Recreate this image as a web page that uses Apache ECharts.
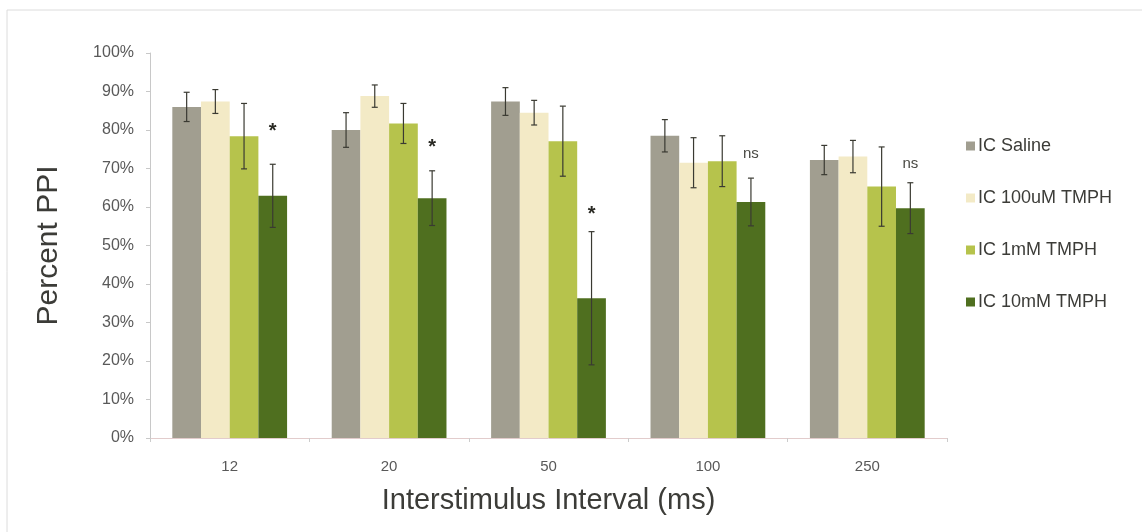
<!DOCTYPE html>
<html>
<head>
<meta charset="utf-8">
<script src="https://cdn.jsdelivr.net/npm/echarts@6/dist/echarts.min.js"></script>
<style>
  html, body { margin: 0; padding: 0; background: #ffffff; }
  #chart { width: 1142px; height: 532px; }
</style>
</head>
<body>
<div id="chart"></div>
<script>
// ---- Data ----
const categories = ['12', '20', '50', '100', '250'];
const seriesNames = ['IC Saline', 'IC 100uM TMPH', 'IC 1mM TMPH', 'IC 10mM TMPH'];
const saline      = [86.0, 80.0, 87.4, 78.5, 72.2];
const tmph100uM   = [87.4, 88.8, 84.5, 71.5, 73.1];
const tmph1mM     = [78.4, 81.7, 77.1, 71.9, 65.3];
const tmph10mM    = [62.9, 62.3, 36.3, 61.3, 59.7];
const salineErr    = [3.8, 4.5, 3.6, 4.2, 3.8];
const tmph100uMErr = [3.1, 2.9, 3.2, 6.5, 4.2];
const tmph1mMErr   = [8.5, 5.2, 9.1, 6.6, 10.3];
const tmph10mMErr  = [8.2, 7.1, 17.3, 6.2, 6.6];
const sigMarks = ['*', '*', '*', 'ns', 'ns'];
const sigLevel = [80.5, 76.3, 58.8, 73.9, 71.2];
const yTicks = [0, 10, 20, 30, 40, 50, 60, 70, 80, 90, 100];

const means = [saline, tmph100uM, tmph1mM, tmph10mM];
const errs = [salineErr, tmph100uMErr, tmph1mMErr, tmph10mMErr];
const colors = ['#a19e90', '#f3eac6', '#b6c34c', '#4f6f1f'];
const BAR_FRAC = 0.18;
const FONT = '"Liberation Sans", Arial, Helvetica, sans-serif';

const chart = echarts.init(document.getElementById('chart'), null, { renderer: 'canvas' });

const barSeries = seriesNames.map((name, si) => ({
  name: name,
  type: 'bar',
  data: means[si],
  barWidth: (BAR_FRAC * 100) + '%',
  barGap: '0%',
  itemStyle: { color: colors[si] },
  emphasis: { disabled: true },
  z: 2
}));

const errData = [];
means.forEach((arr, si) => {
  arr.forEach((m, ci) => errData.push([ci, m, si, errs[si][ci]]));
});

const errSeries = {
  type: 'custom',
  data: errData,
  encode: { x: 0, y: 1 },
  z: 5,
  silent: true,
  renderItem: function (params, api) {
    const ci = api.value(0), m = api.value(1), si = api.value(2), e = api.value(3);
    const c = api.coord([ci, m]);
    const catW = api.size([1, 0])[0];
    const bw = catW * BAR_FRAC;
    const x = c[0] + (si - 1.5) * bw;
    const yt = api.coord([ci, m + e])[1];
    const yb = api.coord([ci, m - e])[1];
    const cap = 3;
    const st = { stroke: '#3a3a32', lineWidth: 1.2 };
    return {
      type: 'group',
      children: [
        { type: 'line', shape: { x1: x, y1: yt, x2: x, y2: yb }, style: st },
        { type: 'line', shape: { x1: x - cap, y1: yt, x2: x + cap, y2: yt }, style: st },
        { type: 'line', shape: { x1: x - cap, y1: yb, x2: x + cap, y2: yb }, style: st }
      ]
    };
  }
};

const sigSeries = {
  type: 'custom',
  data: categories.map((c, i) => [i, sigLevel[i]]),
  encode: { x: 0, y: 1 },
  z: 6,
  silent: true,
  renderItem: function (params, api) {
    const ci = api.value(0), lv = api.value(1);
    const c = api.coord([ci, lv]);
    const catW = api.size([1, 0])[0];
    const x = c[0] + 1.5 * catW * BAR_FRAC;
    const mark = sigMarks[params.dataIndex];
    const isStar = mark === '*';
    return {
      type: 'text',
      style: {
        text: mark,
        x: x,
        y: isStar ? c[1] + 3 : c[1],
        align: 'center',
        verticalAlign: 'middle',
        textAlign: 'center',
        textVerticalAlign: 'middle',
        fill: isStar ? '#2a2a24' : '#4a4a44',
        font: isStar ? ('bold 20px ' + FONT) : ('15px ' + FONT)
      }
    };
  }
};

const option = {
  backgroundColor: '#ffffff',
  animation: false,
  textStyle: { fontFamily: FONT },
  graphic: [{
    type: 'rect',
    shape: { x: 7, y: 10, width: 1400, height: 800 },
    style: { fill: 'none', stroke: '#dcdcdc', lineWidth: 1 },
    silent: true,
    z: -10
  }],
  grid: { left: 150, right: 195, top: 53, bottom: 94 },
  legend: {
    orient: 'vertical',
    left: 961,
    top: 132,
    itemWidth: 9,
    itemHeight: 9,
    itemGap: 34,
    icon: 'rect',
    data: seriesNames,
    selectedMode: false,
    textStyle: { fontSize: 18, color: '#3c3c38', fontFamily: FONT, padding: [0, 0, 0, -2] }
  },
  xAxis: {
    type: 'category',
    data: categories,
    name: 'Interstimulus Interval (ms)',
    nameLocation: 'middle',
    nameGap: 48,
    nameTextStyle: { fontSize: 29, color: '#3c3c38', fontFamily: FONT },
    axisLine: { lineStyle: { color: '#e2cccc', width: 1 } },
    axisTick: { show: true, length: 4, lineStyle: { color: '#cccccc' } },
    axisLabel: { fontSize: 15, color: '#595959', margin: 21, fontFamily: FONT }
  },
  yAxis: {
    type: 'value',
    min: 0,
    max: 100,
    interval: 10,
    name: 'Percent PPI',
    nameLocation: 'middle',
    nameGap: 86,
    nameTextStyle: { fontSize: 30, color: '#3c3c38', fontFamily: FONT },
    axisLine: { show: true, lineStyle: { color: '#c8c8c8', width: 1 } },
    axisTick: { show: true, length: 4, lineStyle: { color: '#c8c8c8' } },
    splitLine: { show: false },
    axisLabel: {
      fontSize: 16, color: '#595959', margin: 16, fontFamily: FONT,
      customValues: yTicks,
      formatter: function (v) { return v + '%'; }
    }
  },
  series: barSeries.concat([errSeries, sigSeries])
};

chart.setOption(option);
</script>
</body>
</html>
